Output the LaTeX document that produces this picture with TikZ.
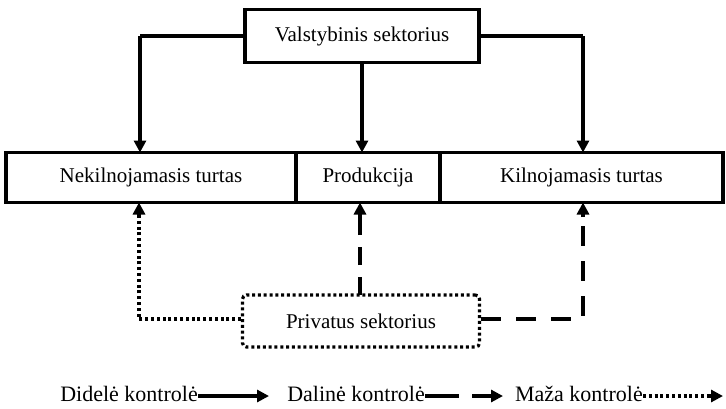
\documentclass[tikz,border=0pt]{standalone}
\usepackage{fontspec}
\setmainfont{Liberation Serif}
\usetikzlibrary{arrows.meta}
\begin{document}
\begin{tikzpicture}[x=1pt,y=-1pt,
  lw/.style={line width=3.2pt},
  tip/.style={-{Triangle[length=12pt,width=12pt]}},
  box/.style={draw,lw,minimum height=50pt,inner sep=0pt,font=\fontsize{21}{24}\selectfont},
  arr/.style={lw,tip},
  dotl/.style={lw,dash pattern=on 3pt off 2.8pt},
  dashl/.style={lw,dash pattern=on 18pt off 12pt},
  lbl/.style={inner sep=0pt,anchor=base east,font=\fontsize{22}{24}\selectfont}]
\useasboundingbox (0,0) rectangle (726,408);
\node[box,minimum width=234pt,minimum height=53pt] (vs) at (362,36) {Valstybinis sektorius};
\node[box,minimum width=290pt,minimum height=50pt] (nt) at (151,177.5) {Nekilnojamasis turtas};
\node[box,minimum width=144pt,minimum height=50pt] (pr) at (368,177.5) {Produkcija};
\node[box,minimum width=283pt,minimum height=50pt] (kt) at (581.5,177.5) {Kilnojamasis turtas};
\node[box,dotl,rounded corners=4pt,minimum width=237pt,minimum height=52pt] (ps) at (361,321) {Privatus sektorius};
% top arrows
\coordinate (tl) at (140,36);
\coordinate (tr) at (583,36);
\draw[lw] (vs.west) -- (tl);
\draw[arr] (tl) -- (140,152.5);
\draw[lw] (vs.east) -- (tr);
\draw[arr] (tr) -- (583,152.5);
\draw[arr] (vs.south -| 362,0) -- (362,152.5);
% bottom arrows
\coordinate (bl) at (139,319);
\coordinate (br) at (583,319);
\draw[dotl] (ps.west |- 0,319) -- (bl) -- (139,216);
\draw[lw,tip] (139,217) -- (139,202.5);
\draw[dashl] (360,295) -- (360,216);
\draw[lw,tip] (360,217) -- (360,202.5);
\draw[dashl,dash pattern=on 20pt off 15pt] (ps.east |- 0,319) -- (br) -- (583,216);
\draw[lw,tip] (583,217) -- (583,202.5);
% legend
\node[lbl] (l1) at (198,401) {Didelė kontrolė};
\node[lbl] (l2) at (425,401) {Dalinė kontrolė};
\node[lbl] (l3) at (643,401) {Maža kontrolė};
\coordinate (a1) at (269,396);
\draw[arr] (l1.east |- 0,396) -- (a1);
\coordinate (a2) at (503,396);
\draw[lw] (l2.east |- 0,396) -- (459,396);
\draw[arr] (472,396) -- (a2);
\coordinate (a3) at (723,396);
\draw[dotl] (l3.east |- 0,396) -- (708,396);
\draw[lw,tip] (707,396) -- (a3);
\end{tikzpicture}
\end{document}
